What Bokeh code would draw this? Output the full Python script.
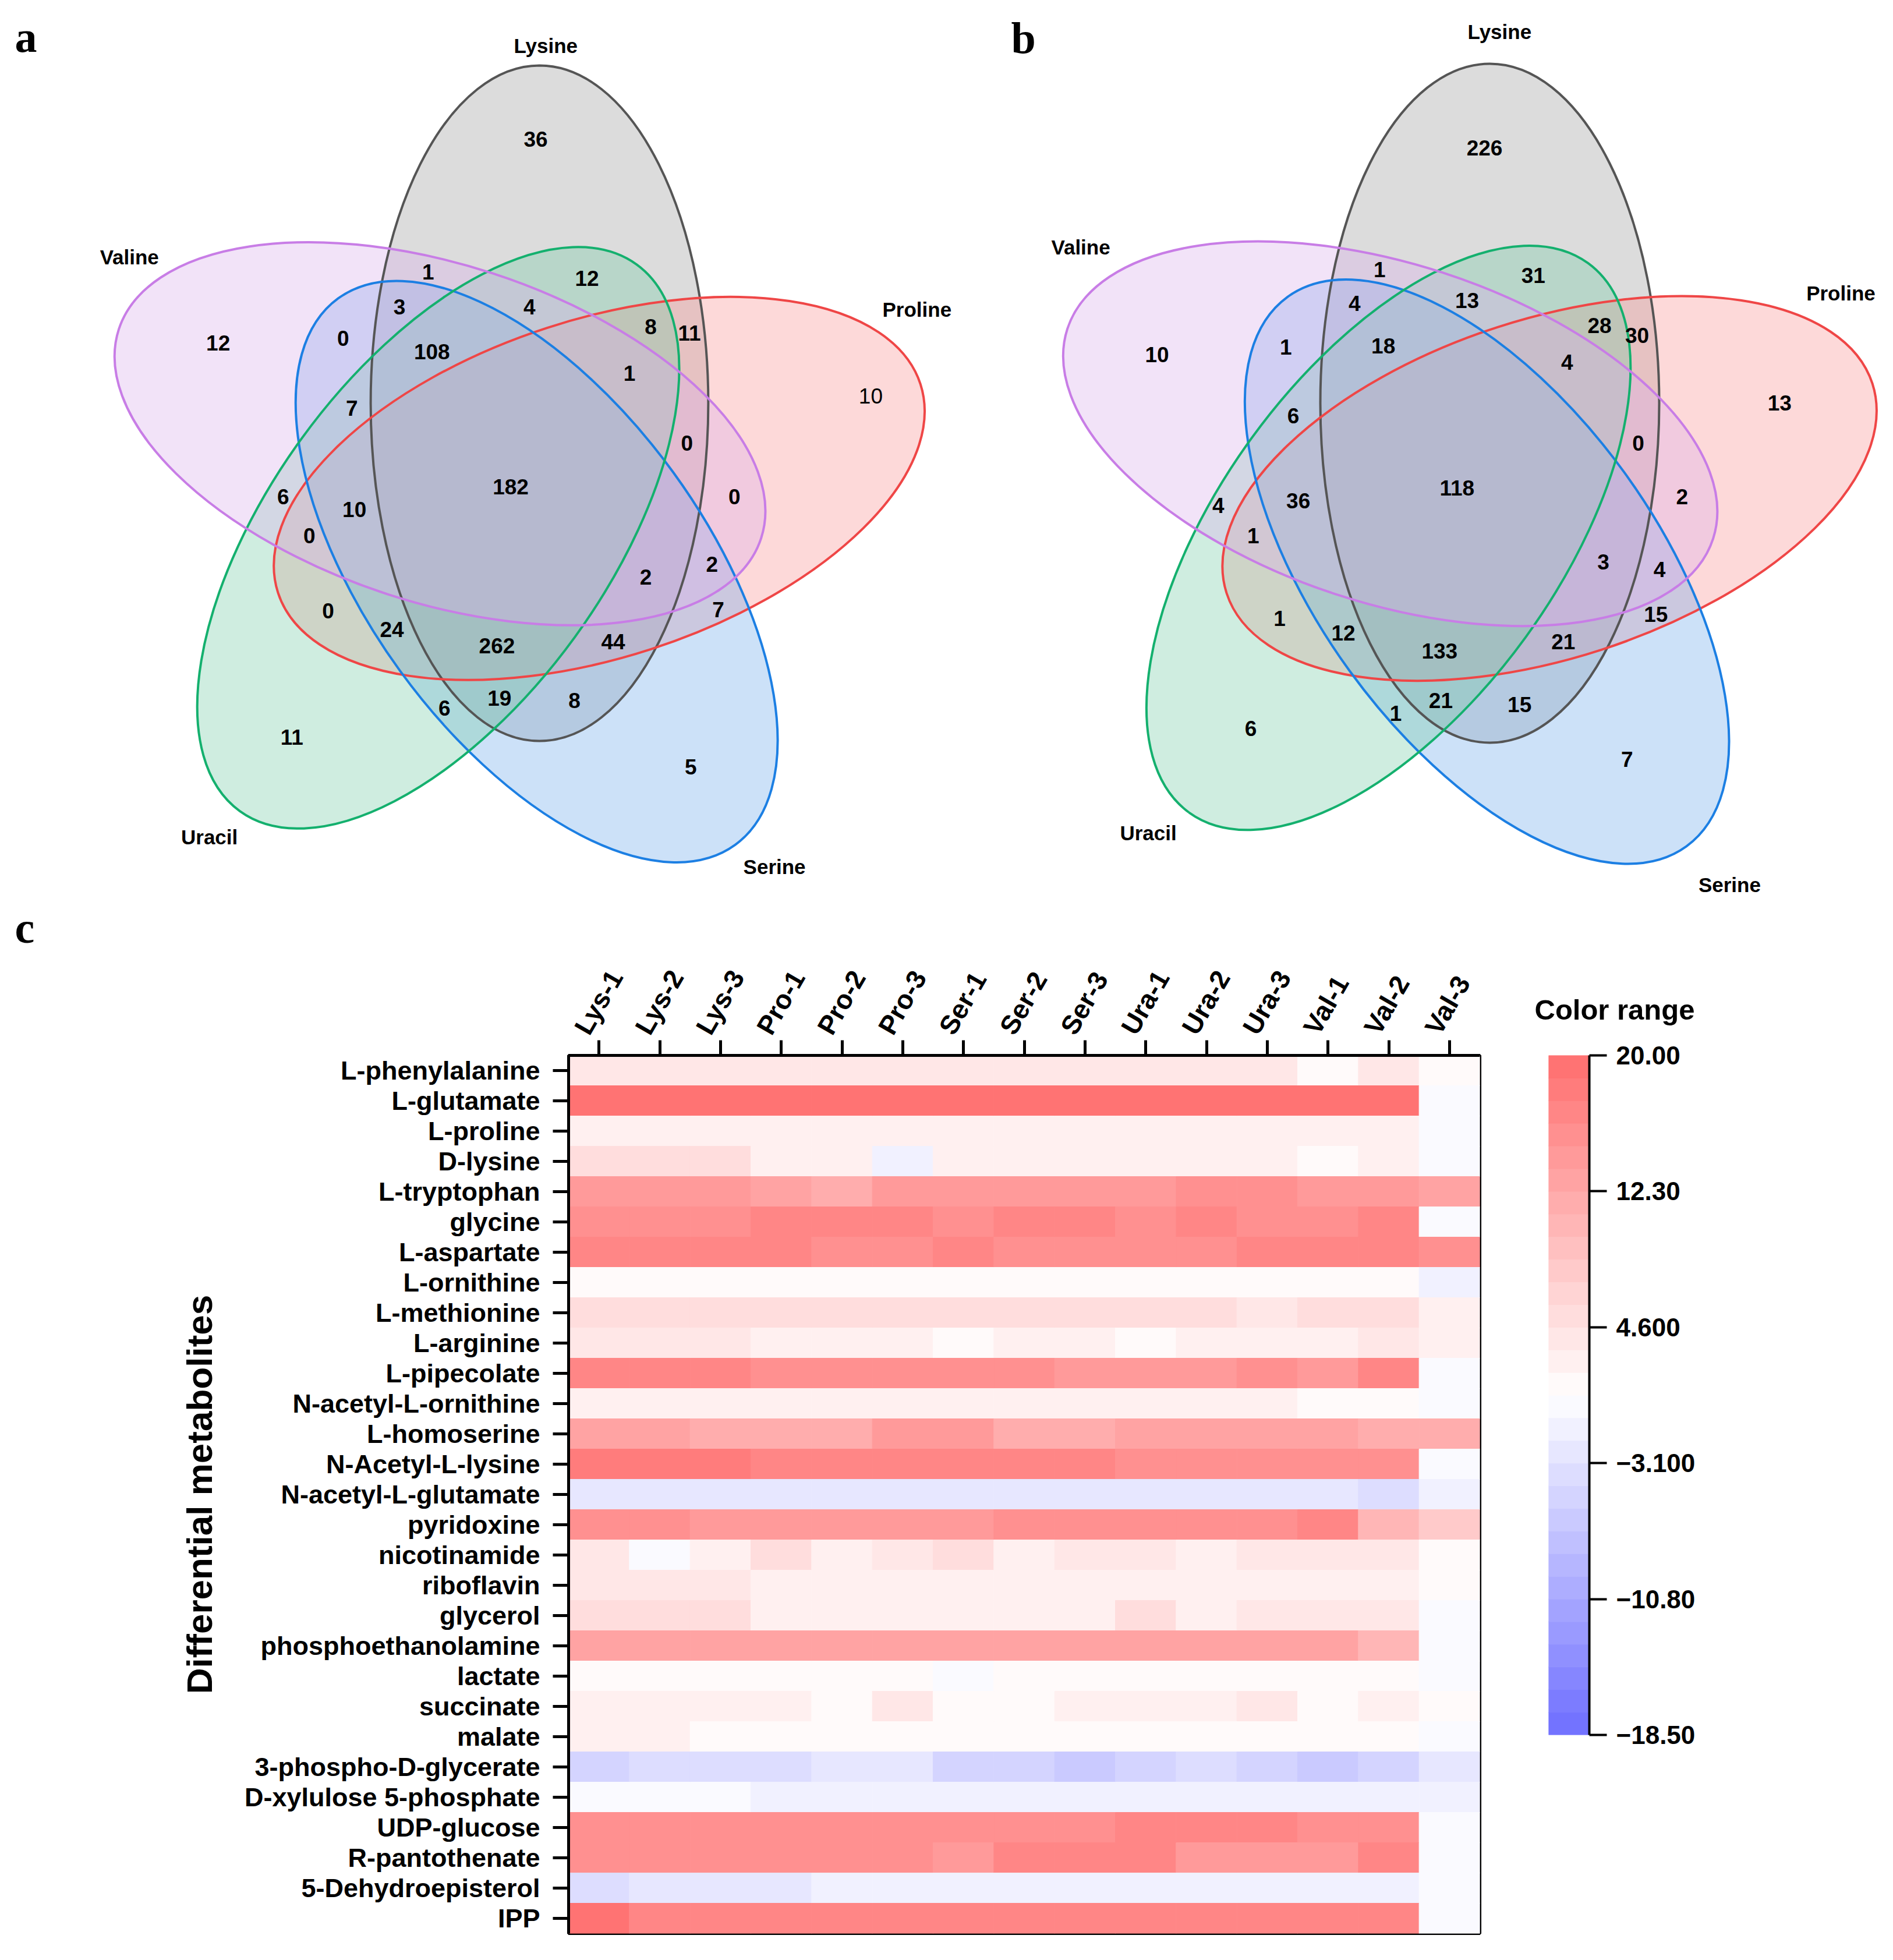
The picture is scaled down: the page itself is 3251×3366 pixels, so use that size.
import math
from bokeh.plotting import figure
from bokeh.models import (Range1d, FactorRange, LinearColorMapper, LinearAxis,
                          FixedTicker, Title, ColumnDataSource)
from bokeh.transform import transform
from bokeh.layouts import column, row
from bokeh.embed import file_html
from bokeh.resources import INLINE
from bokeh.core.properties import value

FONT = "Liberation Sans"
SERIF = "Liberation Serif"

# ======================= DATA =======================
# ---- Venn diagrams (a, b) ----
set_names = ["Lysine", "Proline", "Serine", "Uracil", "Valine"]
region_sets = ["L", "LV", "LU", "LVS", "LVU", "VS", "LVSU", "LUP", "LP", "LVUP",
               "V", "P", "VSU", "LVP", "LVSUP", "VP", "VU", "VSUP", "VUP", "LVSP",
               "VSP", "UP", "SUP", "SP", "LSUP", "LSP", "LSU", "LS", "SU", "U", "S"]
counts_a = [36, 1, 12, 3, 4, 0, 108, 8, 11, 1, 12, 10, 7, 0, 182, 0, 6, 10, 0, 2,
            2, 0, 24, 7, 262, 44, 19, 8, 6, 11, 5]
counts_b = [226, 1, 31, 4, 13, 1, 18, 28, 30, 4, 10, 13, 6, 0, 118, 2, 4, 36, 1, 3,
            4, 1, 12, 15, 133, 21, 21, 15, 1, 6, 7]

# ---- Heatmap (c) ----
samples = ["Lys-1", "Lys-2", "Lys-3", "Pro-1", "Pro-2", "Pro-3", "Ser-1", "Ser-2",
           "Ser-3", "Ura-1", "Ura-2", "Ura-3", "Val-1", "Val-2", "Val-3"]
metabolites = ["L-phenylalanine", "L-glutamate", "L-proline", "D-lysine", "L-tryptophan",
               "glycine", "L-aspartate", "L-ornithine", "L-methionine", "L-arginine",
               "L-pipecolate", "N-acetyl-L-ornithine", "L-homoserine", "N-Acetyl-L-lysine",
               "N-acetyl-L-glutamate", "pyridoxine", "nicotinamide", "riboflavin", "glycerol",
               "phosphoethanolamine", "lactate", "succinate", "malate", "3-phospho-D-glycerate",
               "D-xylulose 5-phosphate", "UDP-glucose", "R-pantothenate", "5-Dehydroepisterol", "IPP"]

v_phenylalanine = [3.6, 3.6, 3.6, 3.6, 3.6, 3.6, 3.6, 3.6, 3.6, 3.6, 3.6, 3.6, 1.6, 3.8, 1.4]
v_glutamate = [19.3, 19.3, 19.3, 19.3, 19.3, 19.3, 19.3, 19.3, 19.3, 19.3, 19.3, 19.3, 19.3, 19.3, 0.1]
v_proline = [3.0, 3.0, 3.0, 3.0, 3.0, 3.0, 3.0, 3.0, 3.0, 3.0, 3.0, 3.0, 3.0, 3.0, 0.1]
v_dlysine = [5.4, 5.4, 5.4, 3.0, 3.0, -1.3, 3.0, 3.0, 3.0, 3.0, 3.0, 3.0, 1.5, 3.0, 0.1]
v_tryptophan = [14.3, 14.3, 14.3, 13.0, 11.8, 14.3, 14.3, 14.3, 14.3, 14.3, 15.4, 15.4, 14.3, 14.3, 13.0]
v_glycine = [15.3, 15.3, 15.3, 16.6, 16.6, 16.6, 15.3, 16.6, 16.6, 15.3, 16.6, 15.3, 15.3, 16.6, 0.1]
v_aspartate = [16.6, 16.6, 16.6, 16.6, 15.3, 15.3, 16.6, 15.3, 15.3, 15.3, 15.3, 16.6, 16.6, 16.6, 15.0]
v_ornithine = [1.4, 1.4, 1.4, 1.4, 1.4, 1.4, 1.4, 1.4, 1.4, 1.4, 1.4, 1.4, 1.4, 1.4, -1.5]
v_methionine = [5.3, 5.3, 5.3, 5.3, 5.3, 5.3, 5.3, 5.3, 5.3, 5.3, 5.3, 4.0, 5.3, 5.3, 2.8]
v_arginine = [4.0, 4.0, 4.0, 2.8, 2.8, 2.8, 1.4, 2.8, 2.8, 1.4, 3.2, 3.2, 3.2, 4.4, 2.8]
v_pipecolate = [17.0, 17.0, 17.0, 15.3, 15.3, 15.3, 15.3, 15.3, 14.0, 14.0, 14.0, 15.3, 14.0, 16.6, 0.1]
v_acornithine = [2.8, 2.8, 2.8, 2.8, 2.8, 2.8, 2.8, 2.8, 2.8, 2.8, 2.8, 2.8, 1.4, 1.4, 0.1]
v_homoserine = [13.0, 13.0, 11.6, 11.6, 11.6, 14.2, 14.2, 12.0, 12.0, 13.0, 13.0, 13.0, 13.0, 12.0, 12.0]
v_aclysine = [17.6, 17.6, 17.6, 16.6, 16.6, 16.6, 16.6, 16.6, 16.6, 15.3, 15.3, 15.3, 15.3, 15.3, 0.1]
v_acglutamate = [-2.5, -2.5, -2.5, -2.5, -2.5, -2.5, -2.5, -2.5, -2.5, -2.5, -2.5, -2.5, -2.5, -4.0, -1.3]
v_pyridoxine = [16.0, 16.0, 14.3, 14.3, 14.3, 14.3, 14.0, 15.3, 15.3, 15.3, 15.3, 15.3, 16.6, 10.5, 8.0]
v_nicotinamide = [4.0, 0.0, 2.8, 4.8, 2.8, 4.0, 4.8, 2.8, 4.0, 4.0, 2.8, 4.0, 4.0, 4.0, 1.4]
v_riboflavin = [4.0, 4.0, 4.0, 2.8, 2.8, 2.8, 2.8, 2.8, 2.8, 2.8, 2.8, 2.8, 2.8, 2.8, 1.4]
v_glycerol = [5.3, 5.3, 5.3, 2.8, 2.8, 2.8, 2.8, 2.8, 2.8, 4.8, 2.8, 4.0, 4.0, 4.0, 0.1]
v_phosphoethanolamine = [13.5, 13.5, 13.5, 13.5, 13.5, 13.5, 13.5, 13.5, 13.5, 13.5, 13.5, 13.5, 13.5, 10.4, 0.1]
v_lactate = [1.4, 1.4, 1.4, 1.4, 1.4, 1.4, 0.0, 1.4, 1.4, 1.4, 1.4, 1.4, 1.4, 1.4, 0.1]
v_succinate = [2.8, 2.8, 2.8, 2.8, 1.4, 3.6, 1.4, 1.4, 2.8, 2.8, 2.8, 4.0, 1.4, 3.2, 1.4]
v_malate = [2.8, 2.8, 1.4, 1.4, 1.4, 1.4, 1.4, 1.4, 1.4, 1.4, 1.4, 1.4, 1.4, 1.4, 0.1]
v_phosphoglycerate = [-5.6, -4.0, -4.0, -4.0, -2.6, -2.6, -5.0, -5.0, -6.5, -5.0, -3.8, -5.0, -6.5, -5.0, -1.9]
v_xylulose5p = [0.0, 0.0, 0.0, -1.3, -1.3, -1.3, -1.3, -1.3, -1.3, -1.3, -1.3, -1.3, -1.3, -1.3, -1.3]
v_udpglucose = [15.5, 15.5, 15.5, 15.5, 15.5, 15.5, 15.5, 15.5, 15.5, 16.8, 16.8, 16.8, 15.5, 15.5, 0.1]
v_pantothenate = [15.5, 15.5, 15.5, 15.5, 15.5, 15.5, 14.2, 16.8, 16.8, 16.8, 14.2, 14.2, 14.2, 16.8, 0.1]
v_dehydroepisterol = [-4.2, -2.6, -2.6, -2.6, -1.3, -1.3, -1.3, -1.3, -1.3, -1.3, -1.3, -1.3, -1.3, -1.3, 0.1]
v_ipp = [19.3, 17.0, 17.0, 17.0, 17.0, 17.0, 17.0, 17.0, 17.0, 17.0, 17.0, 17.0, 17.0, 17.0, 0.1]

color_low, color_high = -18.5, 20.0
colorbar_ticks = [20.0, 12.3, 4.6, -3.1, -10.8, -18.5]
colorbar_tick_text = ["20.00", "12.30", "4.600", "\u22123.100", "\u221210.80", "\u221218.50"]

heat_rows = [v_phenylalanine, v_glutamate, v_proline, v_dlysine, v_tryptophan, v_glycine,
             v_aspartate, v_ornithine, v_methionine, v_arginine, v_pipecolate, v_acornithine,
             v_homoserine, v_aclysine, v_acglutamate, v_pyridoxine, v_nicotinamide,
             v_riboflavin, v_glycerol, v_phosphoethanolamine, v_lactate, v_succinate,
             v_malate, v_phosphoglycerate, v_xylulose5p, v_udpglucose, v_pantothenate,
             v_dehydroepisterol, v_ipp]

# ======================= LAYOUT (positions, not data) =======================
K = 2.147  # layout scale for the label positions below
lab_a = [(432, 115), (346, 221), (473, 226), (323, 249), (427, 249), (278, 274), (349, 285),
         (524, 265), (555, 270), (507, 302), (178, 278), (700, 320), (285, 330), (553, 358),
         (412, 393), (591, 401), (230, 401), (287, 411), (251, 432), (520, 465), (573, 455),
         (266, 492), (317, 507), (578, 491), (401, 520), (494, 517), (403, 562), (463, 564),
         (359, 570), (237, 593), (556, 617)]
lab_b = [(1191, 122), (1107, 219), (1230, 224), (1087, 246), (1177, 244), (1032, 281),
         (1110, 280), (1283, 264), (1313, 272), (1257, 293), (929, 287), (1427, 326),
         (1038, 336), (1314, 358), (1169, 394), (1349, 401), (978, 408), (1042, 404),
         (1006, 432), (1286, 453), (1331, 459), (1027, 498), (1078, 510), (1328, 495),
         (1155, 524), (1254, 517), (1156, 564), (1219, 567), (1120, 574), (1004, 586),
         (1305, 611)]
name_a = [(440, 40), (737, 251), (623, 697), (171, 673), (107, 209)]
name_b = [(1203, 29), (1476, 238), (1387, 711), (922, 670), (868, 201)]
style_a = ["bold"] * 31
style_a[11] = "normal"
style_b = ["bold"] * 31

FILLS = ["#9b9b9b", "#f99292", "#6da9eb", "#76cca6", "#daafeb"]
LINES = ["#555555", "#ef4646", "#1c7fe3", "#14b06e", "#c87de6"]
OFF = (49.4, 143.8)
VX0, VX1, VY0, VY1 = 8, 3243, 8, 1644

venn = figure(frame_width=VX1 - VX0, frame_height=VY1 - VY0,
              x_range=Range1d(VX0, VX1), y_range=Range1d(VY1, VY0),
              x_axis_type=None, y_axis_type=None, toolbar_location=None,
              output_backend="svg", min_border=0, title=None)
venn.outline_line_color = None


def venn_panel(p, cx, cy, semi_major, semi_minor, counts, labs, styles, names, letter, letter_xy):
    ex, ey, ang = [], [], []
    for k in range(5):
        th = math.radians(-72 * k)
        rx = OFF[0] * math.cos(th) - OFF[1] * math.sin(th)
        ry = OFF[0] * math.sin(th) + OFF[1] * math.cos(th)
        ex.append(cx + rx)
        ey.append(cy - ry)
        ang.append(math.radians(90 - 72 * k))
    es = ColumnDataSource(dict(x=ex, y=ey, a=ang, fill=FILLS, line=LINES))
    p.ellipse(x="x", y="y", width=2 * semi_major, height=2 * semi_minor, angle="a",
              source=es, fill_color="fill", fill_alpha=0.35, line_color=None)
    p.ellipse(x="x", y="y", width=2 * semi_major, height=2 * semi_minor, angle="a",
              source=es, fill_color=None, line_color="line", line_width=4)
    ts = ColumnDataSource(dict(x=[q[0] * K for q in labs], y=[q[1] * K for q in labs],
                               t=[str(c) for c in counts], style=styles))
    p.text(x="x", y="y", text="t", source=ts, text_font=value(FONT), text_font_size=value("37px"),
           text_font_style="style", text_color="black", text_align="center", text_baseline="middle")
    ns = ColumnDataSource(dict(x=[q[0] * K for q in names], y=[q[1] * K for q in names], t=set_names))
    p.text(x="x", y="y", text="t", source=ns, text_font=value(FONT), text_font_size=value("35px"),
           text_font_style="bold", text_color="black", text_align="center", text_baseline="middle")
    p.text(x=[letter_xy[0]], y=[letter_xy[1]], text=[letter], text_font=value(SERIF),
           text_font_size=value("76px"), text_font_style="bold", text_color="black",
           text_align="left", text_baseline="alphabetic")


venn_panel(venn, 884.6, 843.8, 580, 290, counts_a, lab_a, style_a, name_a, "a", (33, 70))
venn_panel(venn, 884.6 + 1632, 843.8, 583, 291, counts_b, lab_b, style_b, name_b, "b", (1744, 72))
venn.text(x=[33], y=[1600], text=["c"], text_font=value(SERIF), text_font_size=value("76px"),
          text_font_style="bold", text_color="black", text_align="left", text_baseline="alphabetic")

# ---------------- palette (30 steps, white at the midpoint) ----------------
N_BANDS = 30
MID = (color_low + color_high) / 2
band_w = (color_high - color_low) / N_BANDS
palette = []
for i in range(N_BANDS):
    v = color_low + (i + 0.5) * band_w
    if v >= MID:
        t = (v - MID) / (color_high - MID)
        r, g, b = 255, 255 - 145 * t, 255 - 145 * t
    else:
        t = (MID - v) / (MID - color_low)
        r, g, b = 255 - 145 * t, 255 - 145 * t, 255
    palette.append("#%02x%02x%02x" % (int(round(r)), int(round(g)), int(round(b))))
mapper = LinearColorMapper(palette=palette, low=color_low, high=color_high)

# ---------------- heatmap ----------------
col_pos = {s: i + 0.5 for i, s in enumerate(samples)}   # sample -> axis position
xs, ys, vs = [], [], []
for m, vals in zip(metabolites, heat_rows):
    for s, v in zip(samples, vals):
        xs.append(col_pos[s])
        ys.append(m)
        vs.append(v)
hsrc = ColumnDataSource(dict(col=xs, row=ys, val=vs))

heat = figure(x_range=Range1d(0, len(samples)), y_range=FactorRange(*metabolites[::-1]),
              x_axis_location="above", frame_width=1565, frame_height=1508,
              min_border_left=976, min_border_right=41, min_border_top=1820 - VY1,
              min_border_bottom=30, toolbar_location=None, output_backend="svg", title=None)
heat.rect(x="col", y="row", width=1, height=1, source=hsrc,
          fill_color=transform("val", mapper), line_color=transform("val", mapper), line_width=1)
heat.grid.visible = False
heat.outline_line_color = "black"
heat.outline_line_width = 5

# tick marks of the sample axis (their labels are drawn by the second axis, a little to the left)
tick_pos = [col_pos[s] for s in samples]
xa = heat.xaxis[0]
xa.ticker = FixedTicker(ticks=tick_pos)
xa.major_label_overrides = {t: "" for t in tick_pos}
xa.major_label_text_font_size = "1px"
xa.major_label_standoff = 0
xa.axis_line_width = 5
xa.major_tick_line_width = 5
xa.major_tick_in = 0
xa.major_tick_out = 26
xa.minor_tick_line_color = None

LABEL_SHIFT = -0.29
lab_ticks = [p + LABEL_SHIFT for p in tick_pos]
xl = LinearAxis(ticker=FixedTicker(ticks=lab_ticks),
                major_label_overrides=dict(zip(lab_ticks, samples)))
xl.axis_line_color = None
xl.major_tick_line_color = None
xl.minor_tick_line_color = None
xl.major_tick_in = 0
xl.major_tick_out = 0
xl.major_label_standoff = 14
xl.major_label_orientation = math.radians(60)
xl.major_label_text_font = FONT
xl.major_label_text_font_style = "bold"
xl.major_label_text_font_size = "46px"
xl.major_label_text_color = "black"
heat.add_layout(xl, "above")

ya = heat.yaxis[0]
ya.axis_line_width = 5
ya.major_tick_line_width = 5
ya.major_tick_in = 0
ya.major_tick_out = 27
ya.minor_tick_line_color = None
ya.major_label_standoff = 22
ya.major_label_text_font = FONT
ya.major_label_text_font_style = "bold"
ya.major_label_text_font_size = "45px"
ya.major_label_text_color = "black"
ya.axis_label = "Differential metabolites"
ya.axis_label_text_font = FONT
ya.axis_label_text_font_style = "bold"
ya.axis_label_text_font_size = "62px"
ya.axis_label_text_color = "black"
ya.axis_label_standoff = 40

# ---------------- colour bar ----------------
cb = figure(x_range=Range1d(0, 1), y_range=Range1d(color_low, color_high),
            frame_width=70, frame_height=1167, min_border_left=77, min_border_right=506,
            min_border_top=1816 - VY1, min_border_bottom=375, x_axis_type=None, y_axis_type=None,
            toolbar_location=None, output_backend="svg", title=None)
cb.outline_line_color = None
cb.grid.visible = False
edges = [color_low + i * band_w for i in range(N_BANDS + 1)]
cb.quad(left=0, right=1, bottom=edges[:-1], top=edges[1:], fill_color=palette,
        line_color=palette, line_width=1)
cax = LinearAxis(ticker=FixedTicker(ticks=colorbar_ticks),
                 major_label_overrides=dict(zip(colorbar_ticks, colorbar_tick_text)))
cax.axis_line_width = 4
cax.major_tick_line_width = 4
cax.major_tick_in = 0
cax.major_tick_out = 30
cax.minor_tick_line_color = None
cax.major_label_standoff = 16
cax.major_label_text_font = FONT
cax.major_label_text_font_style = "bold"
cax.major_label_text_font_size = "44px"
cax.major_label_text_color = "black"
cb.add_layout(cax, "right")
cb.add_layout(Title(text="Color range", align="left", offset=-24, standoff=104,
                    text_font=FONT, text_font_style="bold", text_font_size="49px",
                    text_color="black"), "above")

layout = column(venn, row(heat, cb))
open("out.html", "w").write(file_html(layout, INLINE))
